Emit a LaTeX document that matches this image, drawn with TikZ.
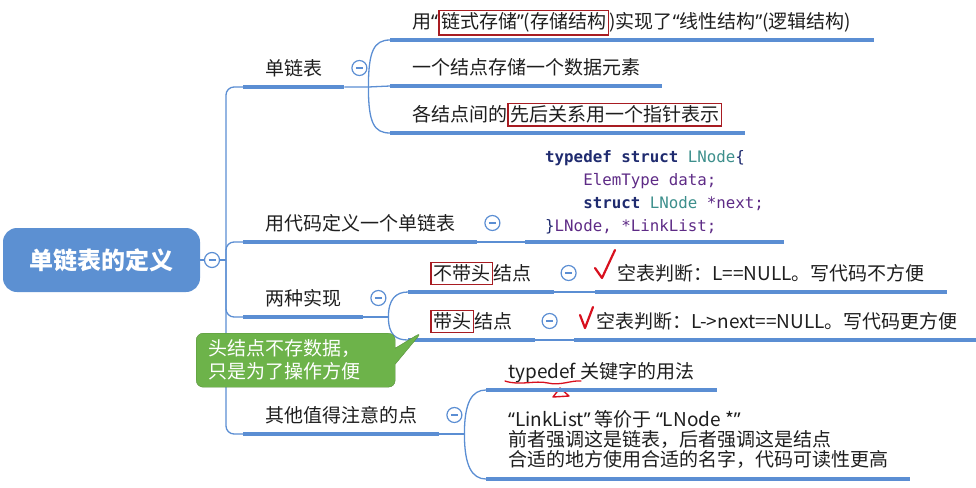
\documentclass[tikz,border=0pt]{standalone}
\usepackage{fontspec}
\usepackage{tikz}
\setmainfont{Noto Sans CJK SC}
\newfontfamily\codefont{DejaVu Sans Mono}
\newfontfamily\quotefont{Noto Sans}
\usetikzlibrary{shapes.callouts}
\definecolor{branch}{HTML}{5B8ED3}
\definecolor{rootblue}{HTML}{5C90D2}
\definecolor{inkblack}{HTML}{1E1E1E}
\definecolor{boxred}{HTML}{A81C22}
\definecolor{tickred}{HTML}{D8101E}
\definecolor{notegreen}{HTML}{6DB34A}
\definecolor{kwnavy}{HTML}{1F2B6F}
\definecolor{typeteal}{HTML}{3D8F8C}
\definecolor{varpurple}{HTML}{5E2B86}

\newcommand{\redbox}[1]{{\setlength{\fboxsep}{1.5pt}\setlength{\fboxrule}{1.6pt}\fcolorbox{boxred}{white}{#1}}}
\newcommand{\qo}{{\quotefont “}}
\newcommand{\qc}{{\quotefont ”}}

\begin{document}
\begin{tikzpicture}[x=1pt, y=-1pt, font=\fontsize{19}{20}\selectfont,
  bar/.style={line width=4pt, branch},
  link/.style={line width=1.3pt, branch},
  topic/.style={anchor=south west, inner xsep=22pt, inner ysep=0pt, text height=13pt, text depth=11pt, text=inkblack},
  fold/.style={circle, draw=branch, line width=1.2pt, fill=white, minimum size=15pt, inner sep=0pt,
    path picture={\draw[branch, line width=1.4pt] ([xshift=-3.5pt]path picture bounding box.center) -- ([xshift=3.5pt]path picture bounding box.center);}},
  tick/.style={tickred, line width=2.2pt, line join=round, line cap=round}]
  \useasboundingbox (0,0) rectangle (976,487);

  % 根节点
  \node[fill=rootblue, rounded corners=14pt, minimum width=197pt, minimum height=64pt, text=white,
        font=\fontsize{24}{26}\selectfont\bfseries] (root) at (101.5,260) {单链表的定义};
  \node[fold] (rootfold) at (212,260) {};
  \coordinate (trunk) at (226,260);

  % 一级分支
  \node[topic] (single) at (243,87) {单链表};
  \node[topic] (define) at (243,242) {用代码定义一个单链表};
  \node[topic] (impl) at (243,317) {两种实现};
  \node[topic] (other) at (243,434) {其他值得注意的点};

  \draw[link] (root) -- (rootfold) -- (trunk);
  \draw[link, rounded corners=8pt] (single.south west) -| (trunk) |- (other.south west);
  \draw[link, rounded corners=8pt] (trunk) |- (define.south west);
  \draw[link, rounded corners=8pt] (trunk) |- (impl.south west);

  % 单链表
  \node[topic] (s1) at (390,40) {用\qo\redbox{链式存储\qc(存储结构})实现了\qo 线性结构\qc(逻辑结构)};
  \node[topic] (s2) at (390,86) {一个结点存储一个数据元素};
  \node[topic] (s3) at (390,133) {各结点间的\redbox{先后关系用一个指针表示}};
  \draw[link] (single.south east) -- ++(24,0) coordinate (k1) -- (s2.south west);
  \draw[link] (k1) .. controls +(0,-36) and +(-16,0) .. (s1.south west);
  \draw[link] (k1) .. controls +(0,36) and +(-16,0) .. (s3.south west);

  % 代码
  \node[topic, inner xsep=20pt, text depth=10pt, align=left, font=\codefont\fontsize{15.8}{23}\selectfont] (code) at (525,242) {%
    {\bfseries\color{kwnavy}typedef struct }{\color{typeteal}LNode}{\color{kwnavy}\{}\\
    \phantom{xxxx}{\color{varpurple}ElemType data;}\\
    \phantom{xxxx}{\bfseries\color{kwnavy}struct }{\color{typeteal}LNode }{\color{varpurple}*next;}\\
    {\color{kwnavy}\}}{\color{varpurple}LNode, *LinkList;}};
  \draw[link] (define.south east) -- (code.south west);

  % 两种实现
  \node[topic] (nohead) at (408,292) {\redbox{不带头}结点};
  \node[topic] (head) at (408,340) {\redbox{带头}结点};
  \draw[link] (impl.south east) -- ++(25,0) coordinate (k3);
  \draw[link] (k3) .. controls +(0,-18) and +(-12,0) .. (nohead.south west);
  \draw[link] (k3) .. controls +(0,18) and +(-12,0) .. (head.south west);
  \node[topic] (emptya) at (595,292) {空表判断：L==NULL。写代码不方便};
  \node[topic] (emptyb) at (574,340) {空表判断：L->next==NULL。写代码更方便};
  \draw[link] (nohead.south east) -- (emptya.south west);
  \draw[link] (head.south east) -- (emptyb.south west);
  \draw[tick] ([shift={(0,-24)}]emptya.south west) -- ++(7,10) -- ++(13,-28);
  \draw[tick] ([shift={(6,-25)}]emptyb.south west) -- ++(5,13) -- ++(8,-21);

  % 其他
  \node[topic] (typedef) at (486,390) {typedef 关键字的用法};
  \node[topic, align=left, text depth=12pt] (alias) at (486,479) {\qo LinkList\qc{} 等价于 \qo LNode *\qc\\前者强调这是链表，后者强调这是结点\\合适的地方使用合适的名字，代码可读性更高};
  \draw[link] (other.south east) -- ++(25,0) coordinate (k4);
  \draw[link] (k4) .. controls +(0,-32) and +(-14,0) .. (typedef.south west);
  \draw[link] (k4) .. controls +(0,32) and +(-14,0) .. (alias.south west);
  \draw[tick, line width=1.3pt] (505,381) .. controls (520,386) and (535,380) .. (548,383) .. controls (560,386) and (572,380) .. (581,381);
  \draw[tick, line width=1.4pt] (560,388) -- (553,397) -- (569,396) -- cycle;

  \foreach \n in {single, define, impl, other, s1, s2, s3, code, nohead, head, emptya, emptyb, typedef, alias} {
    \draw[bar] (\n.south west) -- (\n.south east);
  }
  \foreach \n in {single, define, impl, other, nohead, head} {
    \node[fold] (\n-fold) at ([shift={(15,-19)}]\n.south east) {};
  }

  % 提示框
  \coordinate (tip) at (422,332);
  \node[rectangle callout, callout absolute pointer={(tip)}, callout pointer width=16pt, fill=notegreen,
        draw=notegreen!80!black, rounded corners=7pt, text=white, align=left, anchor=north west,
        text width=175pt, minimum height=54pt, inner xsep=12pt, font=\fontsize{19}{23}\selectfont] (note) at (196,333)
        {头结点不存数据，\\只是为了操作方便};
\end{tikzpicture}
\end{document}
